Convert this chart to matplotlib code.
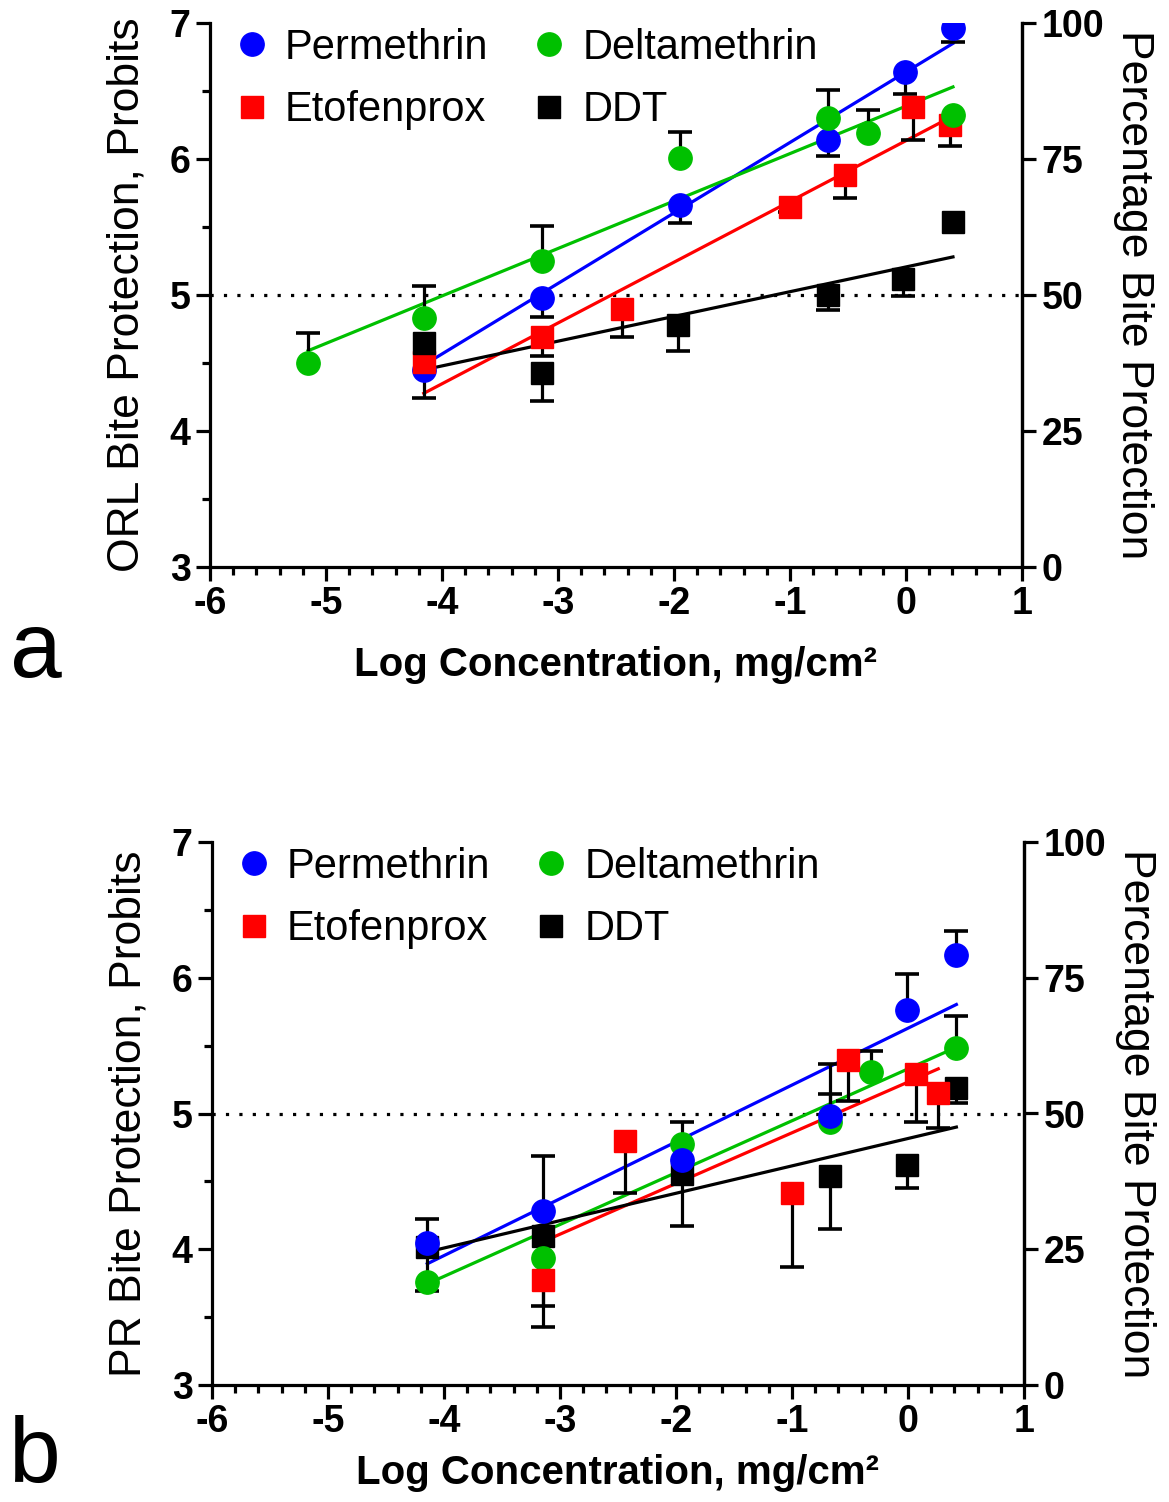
import numpy as np
import matplotlib
matplotlib.use("Agg")
import matplotlib.pyplot as plt
from matplotlib.ticker import MultipleLocator, NullLocator

plt.rcParams['font.family'] = ['Liberation Sans', 'DejaVu Sans']
plt.rcParams['axes.unicode_minus'] = False

# ---------------- data: panel a (ORL) ----------------
a_perm_x = [-4.157, -3.14, -1.95, -0.67, -0.01, 0.405]
a_perm_y = [4.45, 4.975, 5.66, 6.14, 6.64, 6.96]
a_perm_lo = [4.24, 4.84, 5.53, 6.02, 6.48, 6.86]
a_perm_hi = [np.nan] * 6

a_delt_x = [-5.155, -4.157, -3.14, -1.95, -0.672, -0.328, 0.405]
a_delt_y = [4.50, 4.83, 5.25, 6.005, 6.30, 6.19, 6.32]
a_delt_lo = [np.nan] * 7
a_delt_hi = [4.72, 5.066, 5.51, 6.20, 6.51, 6.36, np.nan]

a_etof_x = [-4.157, -3.14, -2.45, -1.003, -0.528, 0.06, 0.377]
a_etof_y = [4.51, 4.69, 4.895, 5.65, 5.88, 6.385, 6.25]
a_etof_lo = [np.nan, 4.55, 4.69, 5.61, 5.71, 6.14, 6.095]
a_etof_hi = [np.nan] * 7

a_ddt_x = [-4.157, -3.14, -1.966, -0.672, -0.026, 0.405]
a_ddt_y = [4.645, 4.43, 4.78, 5.0, 5.12, 5.54]
a_ddt_lo = [np.nan, 4.22, 4.59, 4.89, 4.99, np.nan]
a_ddt_hi = [np.nan] * 6

# regression lines (x range, y at ends)
a_fit_perm = ([-4.157, 0.405], [4.485, 6.85])
a_fit_delt = ([-5.155, 0.405], [4.59, 6.53])
a_fit_etof = ([-4.157, 0.405], [4.277, 6.316])
a_fit_ddt = ([-4.157, 0.405], [4.45, 5.28])

# ---------------- data: panel b (PR) ----------------
b_perm_x = [-4.144, -3.144, -1.951, -0.672, -0.011, 0.417]
b_perm_y = [4.048, 4.285, 4.654, 4.985, 5.764, 6.164]
b_perm_lo = [np.nan] * 6
b_perm_hi = [4.224, 4.69, np.nan, 5.366, 6.024, 6.343]

b_delt_x = [-4.144, -3.144, -1.951, -0.672, -0.322, 0.417]
b_delt_y = [3.757, 3.934, 4.777, 4.936, 5.305, 5.484]
b_delt_lo = [np.nan] * 6
b_delt_hi = [np.nan, np.nan, 4.936, 5.145, 5.457, 5.715]

b_etof_x = [-3.144, -2.443, -0.997, -0.515, 0.072, 0.261]
b_etof_y = [3.777, 4.794, 4.413, 5.396, 5.29, 5.15]
b_etof_lo = [3.43, 4.416, 3.87, 5.09, 4.936, 4.894]
b_etof_hi = [np.nan] * 6

b_ddt_x = [-4.144, -3.144, -1.951, -0.672, -0.011, 0.417]
b_ddt_y = [4.02, 4.096, 4.556, 4.543, 4.617, 5.19]
b_ddt_lo = [3.69, 3.58, 4.17, 4.15, 4.45, 5.076]
b_ddt_hi = [np.nan] * 6

b_fit_perm = ([-4.144, 0.417], [3.893, 5.803])
b_fit_delt = ([-4.144, 0.417], [3.745, 5.488])
b_fit_etof = ([-3.144, 0.261], [4.057, 5.329])
b_fit_ddt = ([-4.144, 0.417], [3.98, 4.90])

x_ticks = [-6, -5, -4, -3, -2, -1, 0, 1]
y_ticks = [3, 4, 5, 6, 7]
pct_ticks = [0, 25, 50, 75, 100]

names = ["Permethrin", "Etofenprox", "Deltamethrin", "DDT"]
colors = {"Permethrin": "#0000FF", "Etofenprox": "#FF0000",
          "Deltamethrin": "#00C000", "DDT": "#000000"}
markers = {"Permethrin": "o", "Etofenprox": "s", "Deltamethrin": "o", "DDT": "s"}

LW = 2.3
TICKFS = 27
LABFS = 29
LEGFS = 30
YLABFS = 32


def draw_panel(ax, series, fits, order, ylabel, xlabelpad):
    ax.set_xlim(-6, 1)
    ax.set_ylim(3, 7)
    ax.axhline(5, color="black", lw=LW, ls=(0, (1, 3.2)), zorder=1)
    for nm in names:
        fx, fy = fits[nm]
        ax.plot(fx, fy, color=colors[nm], lw=LW, zorder=2)
    # error bars
    for nm in names:
        x, y, lo, hi = series[nm]
        for ends in (lo, hi):
            for xi, yi, ei in zip(x, y, ends):
                if np.isnan(ei):
                    continue
                ax.plot([xi, xi], [yi, ei], color="black", lw=LW, zorder=3,
                        solid_capstyle="butt")
                ax.plot([xi], [ei], marker="_", color="black", ms=17,
                        mew=LW + 0.3, zorder=3)
    handles = {}
    for k, nm in enumerate(order):
        x, y, lo, hi = series[nm]
        ms = 16.8 if markers[nm] == "o" else 15.8
        h, = ax.plot(x, y, ls="none", marker=markers[nm], ms=ms,
                     color=colors[nm], mec=colors[nm], zorder=4 + k)
        handles[nm] = h
    ax.legend([handles[n] for n in names], names, ncol=2, loc="upper left",
              frameon=False, fontsize=LEGFS, handletextpad=0.3,
              columnspacing=0.95, labelspacing=0.55, handlelength=1.0,
              borderaxespad=0.1, bbox_to_anchor=(0.0, 1.03))
    ax.spines["top"].set_visible(False)
    for s in ("left", "bottom", "right"):
        ax.spines[s].set_linewidth(LW)
    ax.set_xticks(x_ticks)
    ax.set_yticks(y_ticks)
    ax.xaxis.set_minor_locator(MultipleLocator(0.2))
    ax.yaxis.set_minor_locator(MultipleLocator(0.5))
    ax.tick_params(which="major", length=10, width=LW, labelsize=TICKFS, pad=4)
    ax.tick_params(which="minor", length=6, width=LW)
    for lab in ax.get_xticklabels() + ax.get_yticklabels():
        lab.set_fontweight("bold")
    ax.set_xlabel("Log Concentration, mg/cm²", fontsize=LABFS, fontweight="bold",
                  labelpad=xlabelpad)
    ax.set_ylabel(ylabel, fontsize=YLABFS, labelpad=16)
    ax2 = ax.twinx()
    ax2.set_ylim(0, 100)
    ax2.set_yticks(pct_ticks)
    ax2.yaxis.set_minor_locator(NullLocator())
    ax2.spines["top"].set_visible(False)
    ax2.spines["right"].set_linewidth(LW)
    ax2.tick_params(which="major", length=10, width=LW, labelsize=TICKFS, pad=4)
    for lab in ax2.get_yticklabels():
        lab.set_fontweight("bold")
    ax2.set_ylabel("Percentage Bite Protection", fontsize=YLABFS, rotation=270,
                   labelpad=36)
    return ax2


fig = plt.figure(figsize=(11.69, 15.02), dpi=100)

ax_a = fig.add_axes([210 / 1169, 1 - 567 / 1502, (1022 - 210) / 1169, (567 - 23) / 1502])
ax_b = fig.add_axes([212 / 1169, 1 - 1385 / 1502, (1024 - 212) / 1169, (1385 - 842) / 1502])

series_a = {"Permethrin": (a_perm_x, a_perm_y, a_perm_lo, a_perm_hi),
            "Deltamethrin": (a_delt_x, a_delt_y, a_delt_lo, a_delt_hi),
            "Etofenprox": (a_etof_x, a_etof_y, a_etof_lo, a_etof_hi),
            "DDT": (a_ddt_x, a_ddt_y, a_ddt_lo, a_ddt_hi)}
fits_a = {"Permethrin": a_fit_perm, "Deltamethrin": a_fit_delt,
          "Etofenprox": a_fit_etof, "DDT": a_fit_ddt}
series_b = {"Permethrin": (b_perm_x, b_perm_y, b_perm_lo, b_perm_hi),
            "Deltamethrin": (b_delt_x, b_delt_y, b_delt_lo, b_delt_hi),
            "Etofenprox": (b_etof_x, b_etof_y, b_etof_lo, b_etof_hi),
            "DDT": (b_ddt_x, b_ddt_y, b_ddt_lo, b_ddt_hi)}
fits_b = {"Permethrin": b_fit_perm, "Deltamethrin": b_fit_delt,
          "Etofenprox": b_fit_etof, "DDT": b_fit_ddt}

draw_panel(ax_a, series_a, fits_a, ["Permethrin", "Etofenprox", "Deltamethrin", "DDT"],
           "ORL Bite Protection, Probits", 17)
draw_panel(ax_b, series_b, fits_b, ["DDT", "Deltamethrin", "Etofenprox", "Permethrin"],
           "PR Bite Protection, Probits", 10)

fig.text(36 / 1169, 1 - 677 / 1502, "a", fontsize=67, ha="center", va="baseline")
fig.text(34 / 1169, 1 - 1501 / 1502, "b", fontsize=67, ha="center", va="bottom")

fig.savefig("out.png", dpi=100)
